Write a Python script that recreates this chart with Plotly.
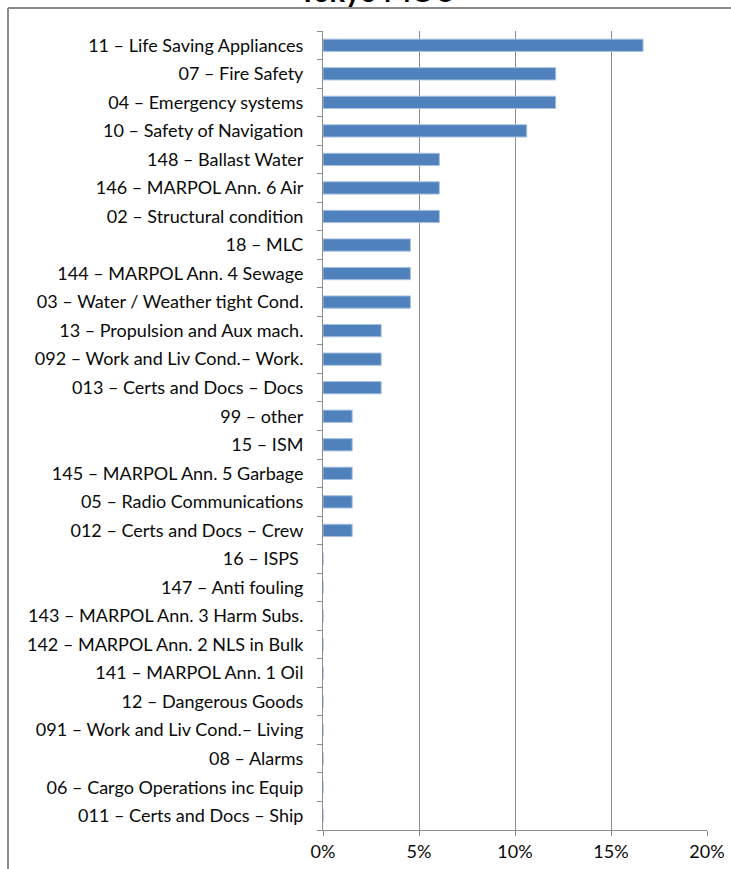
import plotly.graph_objects as go

categories = [
    "11 – Life Saving Appliances",
    "07 – Fire Safety",
    "04 – Emergency systems",
    "10 – Safety of Navigation",
    "148 – Ballast Water",
    "146 – MARPOL Ann. 6 Air",
    "02 – Structural condition",
    "18 – MLC",
    "144 – MARPOL Ann. 4 Sewage",
    "03 – Water / Weather tight Cond.",
    "13 – Propulsion and Aux mach.",
    "092 – Work and Liv Cond.– Work.",
    "013 – Certs and Docs – Docs",
    "99 – other",
    "15 – ISM",
    "145 – MARPOL Ann. 5 Garbage",
    "05 – Radio Communications",
    "012 – Certs and Docs – Crew",
    "16 – ISPS ",
    "147 – Anti fouling",
    "143 – MARPOL Ann. 3 Harm Subs.",
    "142 – MARPOL Ann. 2 NLS in Bulk",
    "141 – MARPOL Ann. 1 Oil",
    "12 – Dangerous Goods",
    "091 – Work and Liv Cond.– Living",
    "08 – Alarms",
    "06 – Cargo Operations inc Equip",
    "011 – Certs and Docs – Ship",
]
values = [
    0.1667, 0.1212, 0.1212, 0.1061, 0.0606, 0.0606, 0.0606, 0.0455, 0.0455, 0.0455,
    0.0303, 0.0303, 0.0303, 0.0152, 0.0152, 0.0152, 0.0152, 0.0152,
    0, 0, 0, 0, 0, 0, 0, 0, 0, 0,
]
x_ticks = [0, 0.05, 0.10, 0.15, 0.20]
x_tick_labels = ["0%", "5%", "10%", "15%", "20%"]
title_text = "Tokyo MOU"

W, H = 731, 869
L, R, T, B = 323, 24, 31, 39
pw, ph = W - L - R, H - T - B

def px_x(p):
    return (p - L) / pw

def px_y(p):
    return (H - B - p) / ph

fig = go.Figure(go.Bar(
    x=values, y=categories, orientation="h",
    marker=dict(color="#4F81BD", line=dict(color="#A7C0E0", width=1)),
))

grey = "#8C8C8C"
fig.update_layout(
    width=W, height=H,
    margin=dict(l=L, r=R, t=T, b=B, autoexpand=False),
    paper_bgcolor="white", plot_bgcolor="white",
    bargap=0.57,
    showlegend=False,
    font=dict(family="Lato", size=18, color="#0A0A0A"),
    xaxis=dict(
        range=[0, 0.20], tickvals=x_ticks, ticktext=x_tick_labels,
        showgrid=True, gridcolor=grey, gridwidth=1,
        showline=True, linecolor=grey, linewidth=1,
        ticks="outside", ticklen=5, tickcolor=grey,
        zeroline=False, fixedrange=True, automargin=False,
    ),
    yaxis=dict(
        categoryorder="array", categoryarray=categories[::-1],
        showline=True, linecolor=grey, linewidth=1,
        ticks="outside", ticklen=5, tickcolor=grey, tickson="boundaries",
        showgrid=False, ticklabelstandoff=15, automargin=False,
    ),
    shapes=[
        dict(type="line", xref="paper", yref="paper",
             x0=px_x(8), x1=px_x(731), y0=px_y(8), y1=px_y(8),
             line=dict(color="#8A8A8A", width=2)),
        dict(type="line", xref="paper", yref="paper",
             x0=px_x(8), x1=px_x(8), y0=px_y(8), y1=px_y(875),
             line=dict(color="#8A8A8A", width=2)),
    ],
    annotations=[
        dict(text=f"<b>{title_text}</b>", xref="paper", yref="paper",
             x=px_x(377), y=px_y(10), xanchor="center", yanchor="bottom",
             showarrow=False, font=dict(size=29, color="#000000",
                                        family="Lato")),
    ],
)

fig.write_html("out.html", config={"displayModeBar": False})
with open("out.html", encoding="utf-8") as f:
    html = f.read()
html = html.replace("<head>", "<head><style>html,body{margin:0;padding:0;overflow:hidden}</style>", 1)
with open("out.html", "w", encoding="utf-8") as f:
    f.write(html)
